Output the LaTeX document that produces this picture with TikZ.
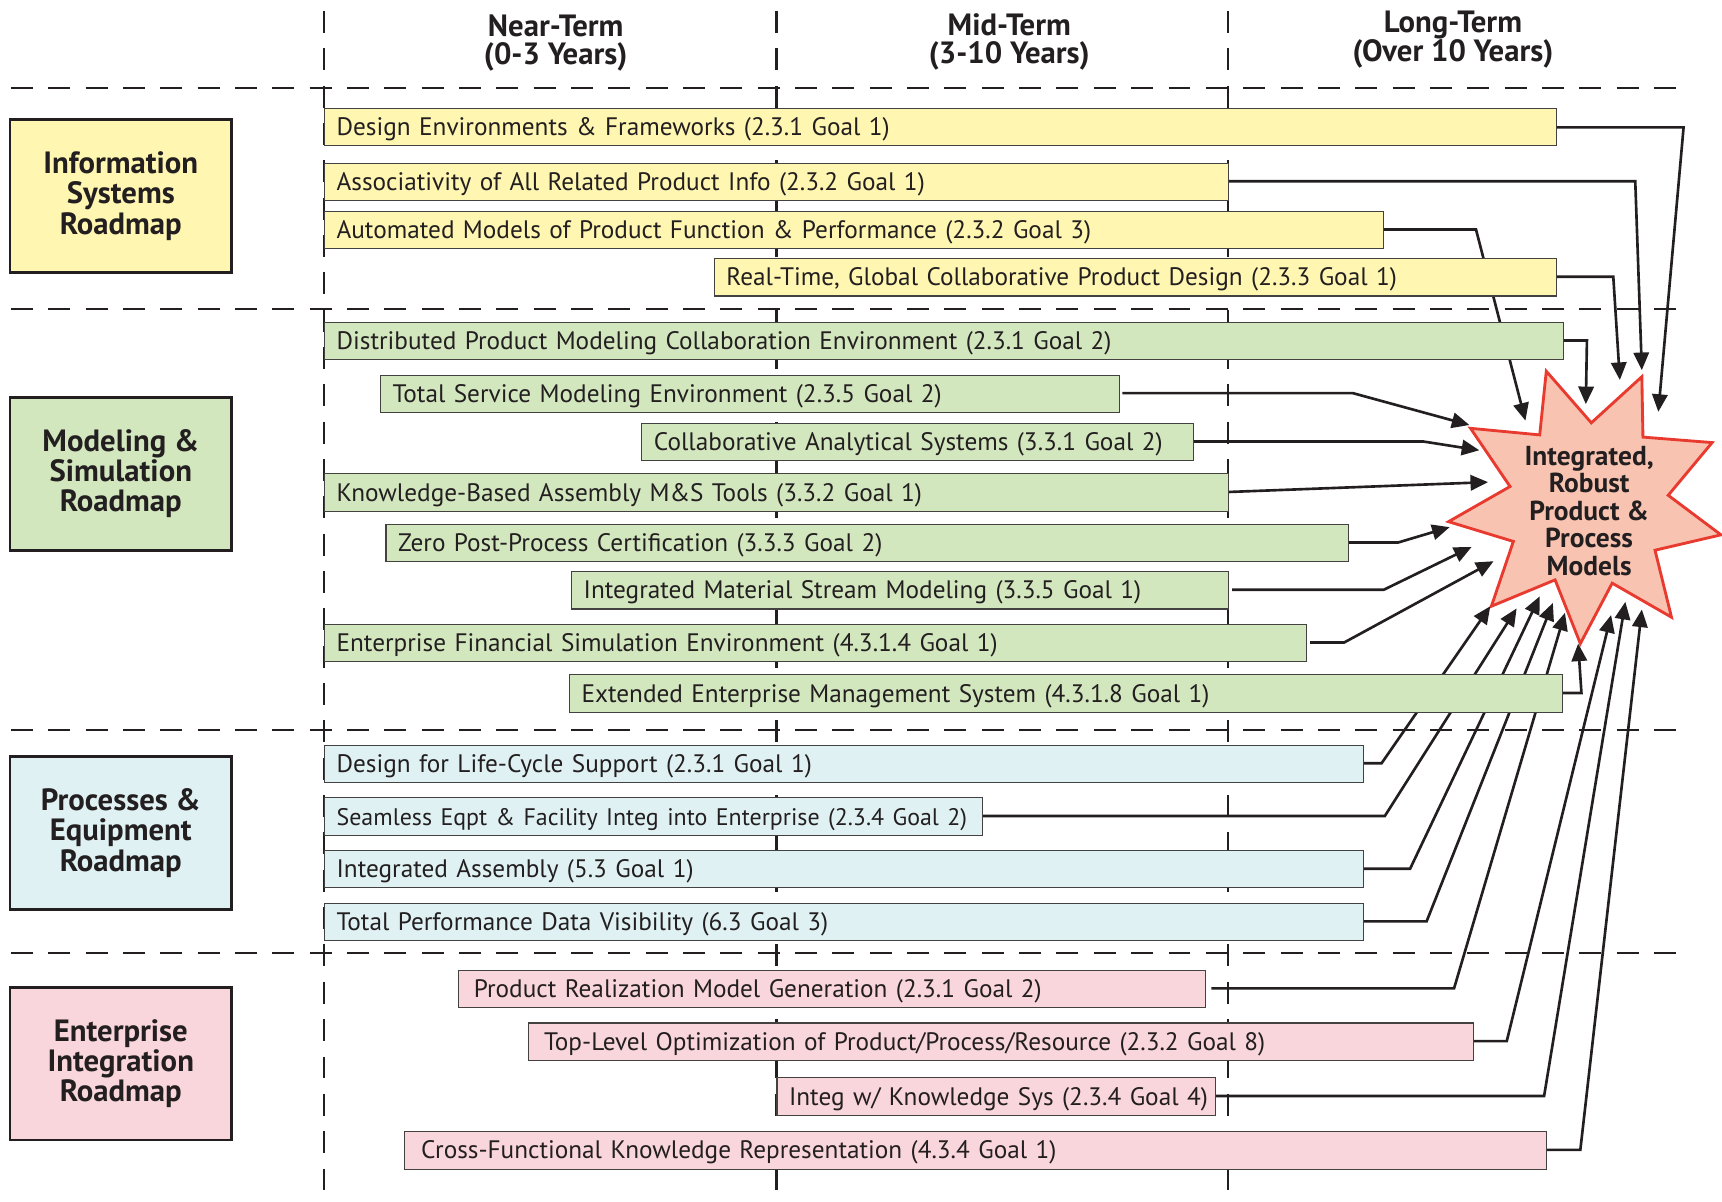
\documentclass[tikz,border=0pt]{standalone}
\usepackage{fontspec}
\setmainfont{PT Sans}
\usetikzlibrary{arrows.meta}
\definecolor{isY}{HTML}{FFF6B1}
\definecolor{msG}{HTML}{D3E7BF}
\definecolor{peB}{HTML}{DFF1F3}
\definecolor{eiP}{HTML}{F9D6DB}
\definecolor{starF}{HTML}{F8C4B1}
\definecolor{starE}{HTML}{E93A30}
\definecolor{lineK}{HTML}{231F20}
\tikzset{
  gridline/.style={line width=1pt, lineK, dash pattern=on 10pt off 7pt},
  itembox/.style={draw=lineK!85, line width=0.5pt, inner xsep=0pt, inner ysep=0pt,
    minimum height=17pt, text height=9pt, text depth=1.2pt, align=left,
    font=\fontsize{11.5}{13}\selectfont, text=lineK},
  roadbox/.style={draw=lineK, line width=1.2pt, minimum width=101pt, minimum height=69.5pt,
    align=center, font=\fontsize{14}{13.75}\selectfont\bfseries, text=lineK},
  hdr/.style={align=center, font=\fontsize{14}{13}\selectfont\bfseries, text=lineK},
  conn/.style={line width=1.2pt, lineK, -{Triangle[length=8pt,width=7pt]}},
}
\newcommand\ibox[6]{%
  \pgfmathsetmacro\bw{(#3-#2)*0.5}%
  \node[itembox, fill=#5, minimum width=\bw pt, text width=\bw pt, anchor=north west] (#1) at (#2,#4) {\hspace*{5.5pt}\mbox{#6}};}
\begin{document}
\begin{tikzpicture}[x=0.5pt,y=-0.5pt]
\useasboundingbox (0,0) rectangle (1568,1094);
% grid
\draw[gridline] (295,10) -- (295,1094);
\draw[gridline] (707,10) -- (707,1094);
\draw[gridline] (1118,10) -- (1118,1094);
\draw[gridline] (10,80) -- (1530,80);
\draw[gridline] (10,281) -- (1530,281);
\draw[gridline] (10,665) -- (1535,665);
\draw[gridline] (10,868) -- (1535,868);
% headers
\node[hdr] (h1) at (506,39) {Near-Term\\(0-3 Years)};
\node[hdr] (h2) at (919,38) {Mid-Term\\(3-10 Years)};
\node[hdr] (h3) at (1323,36) {Long-Term\\(Over 10 Years)};
% roadmap boxes
\node[roadbox, fill=isY] (r1) at (110,178.5) {\raisebox{-1pt}{\parbox{90pt}{\centering Information\\Systems\\Roadmap}}};
\node[roadbox, fill=msG] (r2) at (110,431.5) {\raisebox{-1pt}{\parbox{90pt}{\centering Modeling \&\\Simulation\\Roadmap}}};
\node[roadbox, fill=peB] (r3) at (110,758.5) {\raisebox{-1pt}{\parbox{90pt}{\centering Processes \&\\Equipment\\Roadmap}}};
\node[roadbox, fill=eiP] (r4) at (110,968.5) {\raisebox{-1pt}{\parbox{90pt}{\centering Enterprise\\Integration\\Roadmap}}};
% star
\filldraw[fill=starF, draw=starE, line width=1.3pt, line join=miter]
  (1408,338) -- (1449,385) -- (1495,343) -- (1496,398) -- (1559,403) -- (1519,451)
  -- (1567,487) -- (1507,501) -- (1522,562) -- (1468,531) -- (1439,586) -- (1416,528)
  -- (1358,552) -- (1378,493) -- (1319,475) -- (1375,443) -- (1339,390) -- (1402,396) -- cycle;
\node[align=center, font=\fontsize{12.5}{12.5}\selectfont\bfseries, text=lineK] (goal) at (1447,465)
  {Integrated,\\Robust\\Product \&\\Process\\Models};
% arrow targets
\coordinate (t1) at (1510,375);
\coordinate (t2) at (1495,337);
\coordinate (t3) at (1389,383);
\coordinate (t4) at (1475,346);
\coordinate (t5) at (1444,368);
\coordinate (t6) at (1338,387);
\coordinate (t7) at (1347,410);
\coordinate (t8) at (1355,439);
\coordinate (t9) at (1320,480);
\coordinate (t10) at (1340,498);
\coordinate (t11) at (1360,511);
\coordinate (t12) at (1437,586);
\coordinate (t13) at (1357,552);
\coordinate (t14) at (1381,554);
\coordinate (t15) at (1402,543);
\coordinate (t16) at (1414,549);
\coordinate (t17) at (1425,558);
\coordinate (t18) at (1467,560);
\coordinate (t19) at (1480,548);
\coordinate (t20) at (1495,555);
% connector start points (right edges of the goal boxes)
\path (1417,116) coordinate (e1) (1118,165) coordinate (e2) (1259,209) coordinate (e3)
  (1417,252) coordinate (e4) (1423,310) coordinate (e5) (1019,358) coordinate (e6)
  (1086,402) coordinate (e7) (1118,448) coordinate (e8) (1227,494) coordinate (e9)
  (1118,537) coordinate (e10) (1189,585) coordinate (e11) (1422,631) coordinate (e12)
  (1241,695) coordinate (e13) (894,743) coordinate (e14) (1241,791) coordinate (e15)
  (1241,839) coordinate (e16) (1097,900) coordinate (e17) (1341,948) coordinate (e18)
  (1106,998) coordinate (e19) (1408,1047) coordinate (e20);
\draw[conn] (e1) -- ++(116,0) -- (t1);
\draw[conn] (e2) -- ++(371,0) -- (t2);
\draw[conn] (e3) -- ++(85,0) -- (t3);
\draw[conn] (e4) -- ++(52,0) -- (t4);
\draw[conn] (e5) -- ++(22,0) -- (t5);
\draw[conn, shorten <=1.5pt] (e6) -- ++(213,0) -- (t6);
\draw[conn] (e7) -- ++(210,0) -- (t7);
\draw[conn] (e8) -- (t8);
\draw[conn] (e9) -- ++(46,0) -- (t9);
\draw[conn, shorten <=2pt] (e10) -- ++(142,0) -- (t10);
\draw[conn, shorten <=2pt] (e11) -- ++(35,0) -- (t11);
\draw[conn] (e12) -- ++(18,0) -- (t12);
\draw[conn] (e13) -- ++(17,0) -- (t13);
\draw[conn] (e14) -- ++(367,0) -- (t14);
\draw[conn] (e15) -- ++(43,0) -- (t15);
\draw[conn] (e16) -- ++(58,0) -- (t16);
\draw[conn, shorten <=3pt] (e17) -- ++(227,0) -- (t17);
\draw[conn] (e18) -- ++(31,0) -- (t18);
\draw[conn] (e19) -- ++(300,0) -- (t19);
\draw[conn] (e20) -- ++(31,0) -- (t20);
% boxes: name, left, right, top, fill, text
\ibox{b1}{295}{1417}{98}{isY}{Design Environments \& Frameworks (2.3.1 Goal 1)}
\ibox{b2}{295}{1118}{148}{isY}{Associativity of All Related Product Info (2.3.2 Goal 1)}
\ibox{b3}{295}{1259}{192}{isY}{Automated Models of Product Function \& Performance (2.3.2 Goal 3)}
\ibox{b4}{650}{1417}{235}{isY}{Real-Time, Global Collaborative Product Design (2.3.3 Goal 1)}
\ibox{b5}{295}{1423}{293}{msG}{Distributed Product Modeling Collaboration Environment (2.3.1 Goal 2)}
\ibox{b6}{346}{1019}{341}{msG}{Total Service Modeling Environment (2.3.5 Goal 2)}
\ibox{b7}{584}{1086}{385}{msG}{Collaborative Analytical Systems (3.3.1 Goal 2)}
\ibox{b8}{295}{1118}{431}{msG}{Knowledge-Based Assembly M\&S Tools (3.3.2 Goal 1)}
\ibox{b9}{351}{1227}{477}{msG}{Zero Post-Process Certification (3.3.3 Goal 2)}
\ibox{b10}{520}{1118}{520}{msG}{Integrated Material Stream Modeling (3.3.5 Goal 1)}
\ibox{b11}{295}{1189}{568}{msG}{Enterprise Financial Simulation Environment (4.3.1.4 Goal 1)}
\ibox{b12}{518}{1422}{614}{msG}{Extended Enterprise Management System (4.3.1.8 Goal 1)}
\ibox{b13}{295}{1241}{678}{peB}{Design for Life-Cycle Support (2.3.1 Goal 1)}
\ibox{b14}{295}{894}{726}{peB}{\fontsize{10.9}{13}\selectfont Seamless Eqpt \& Facility Integ into Enterprise (2.3.4 Goal 2)}
\ibox{b15}{295}{1241}{774}{peB}{Integrated Assembly (5.3 Goal 1)}
\ibox{b16}{295}{1241}{822}{peB}{Total Performance Data Visibility (6.3 Goal 3)}
\ibox{b17}{417}{1097}{883}{eiP}{\hspace*{1.5pt}Product Realization Model Generation (2.3.1 Goal 2)}
\ibox{b18}{481}{1341}{931}{eiP}{\hspace*{1.5pt}Top-Level Optimization of Product/Process/Resource (2.3.2 Goal 8)}
\ibox{b19}{707}{1106}{981}{eiP}{Integ w/ Knowledge Sys (2.3.4 Goal 4)}
\ibox{b20}{368}{1408}{1030}{eiP}{\hspace*{2pt}Cross-Functional Knowledge Representation (4.3.4 Goal 1)}
\end{tikzpicture}
\end{document}
